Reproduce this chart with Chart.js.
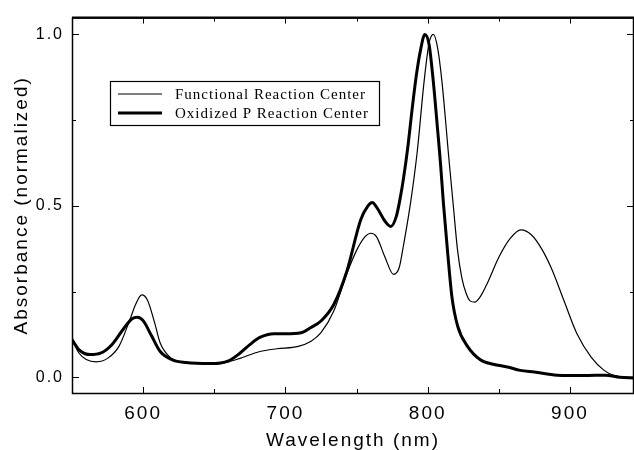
<!DOCTYPE html>
<html>
<head>
<meta charset="utf-8">
<title>Absorbance spectra</title>
<script src="https://cdn.jsdelivr.net/npm/chart.js@4.4.1/dist/chart.umd.min.js"></script>
<style>
  html, body { margin: 0; padding: 0; background: #fff; }
  #chart { display: block; }
</style>
</head>
<body>
<canvas id="chart" width="634" height="450"></canvas>
<script>
// === Data ===
const functionalWavelengths = [550, 555, 560, 567, 575, 583, 590, 595, 599, 603, 608, 612, 619, 627, 640, 650, 660, 668, 682, 694, 709, 718, 725, 734, 743, 750, 756, 760, 764, 770, 776, 780, 783, 788, 792.7, 797.4, 801, 804, 807, 810, 815, 818, 821, 824, 827, 830, 833, 837, 842, 850, 858, 865.5, 873, 880, 887, 896, 905, 915, 924, 931, 938, 945];
const functionalAbsorbance = [0.11, 0.07, 0.052, 0.045, 0.055, 0.09, 0.16, 0.215, 0.24, 0.225, 0.16, 0.10, 0.058, 0.045, 0.04, 0.038, 0.045, 0.055, 0.075, 0.083, 0.09, 0.105, 0.13, 0.193, 0.30, 0.37, 0.41, 0.42, 0.41, 0.35, 0.30, 0.32, 0.385, 0.51, 0.66, 0.86, 0.975, 1.0, 0.96, 0.863, 0.633, 0.50, 0.37, 0.29, 0.245, 0.222, 0.219, 0.235, 0.275, 0.35, 0.405, 0.43, 0.415, 0.375, 0.317, 0.221, 0.126, 0.058, 0.02, 0.005, 0.0, 0.0];

const oxidizedWavelengths = [550, 555, 563, 570, 578, 586, 592, 596, 600, 606, 612, 621, 630, 647, 660, 668, 675, 682, 692, 700, 711, 718, 725, 734, 743, 753, 758, 761, 765, 770, 774, 778, 781, 783, 786, 789, 792, 795, 798, 801, 804, 807, 809, 811, 814, 817, 821, 828, 837, 846, 856, 865, 875, 891, 910, 925, 935, 945];
const oxidizedAbsorbance = [0.11, 0.08, 0.066, 0.07, 0.095, 0.14, 0.17, 0.175, 0.165, 0.12, 0.075, 0.05, 0.043, 0.04, 0.048, 0.07, 0.095, 0.116, 0.127, 0.127, 0.13, 0.145, 0.164, 0.212, 0.307, 0.46, 0.50, 0.51, 0.49, 0.455, 0.44, 0.47, 0.53, 0.58, 0.67, 0.78, 0.88, 0.955, 1.0, 0.97, 0.86, 0.72, 0.624, 0.51, 0.365, 0.235, 0.15, 0.09, 0.051, 0.038, 0.03, 0.02, 0.015, 0.006, 0.005, 0.006, 0.0, -0.002];

const seriesLabels = ['Functional Reaction Center', 'Oxidized P Reaction Center'];

const xTicks = [600, 700, 800, 900];
const xMinorTicks = [650, 750, 850];
const yTicks = [0.0, 0.5, 1.0];
const yMinorTicks = [0.25, 0.75];

// === Helpers ===
function toPoints(xs, ys) {
  return xs.map((x, i) => ({ x: x, y: ys[i] }));
}

// letter spacing for all chart text (the figure's text is spaced out)
const spacingPlugin = {
  id: 'spacing',
  beforeLayout(chart) { chart.ctx.letterSpacing = '2px'; },
  beforeDraw(chart) { chart.ctx.letterSpacing = '2px'; }
};

// frame + inward tick marks on all four sides
const framePlugin = {
  id: 'frame',
  afterDatasetsDraw(chart) {
    const { ctx, chartArea: a, scales } = chart;
    const xs = scales.x, ys = scales.y;
    ctx.save();
    ctx.strokeStyle = '#000';
    ctx.lineWidth = 1.5;
    ctx.strokeRect(a.left + 0.5, a.top + 0.5, a.right - a.left - 1, a.bottom - a.top);
    // top edge is a bit heavier in the figure
    ctx.lineWidth = 2;
    ctx.beginPath();
    ctx.moveTo(a.left, a.top);
    ctx.lineTo(a.right, a.top);
    ctx.stroke();

    ctx.lineWidth = 1;
    const tick = (vals, len) => {
      vals.forEach(v => {
        const px = Math.round(xs.getPixelForValue(v)) + 0.5;
        ctx.beginPath();
        ctx.moveTo(px, a.bottom); ctx.lineTo(px, a.bottom - len);
        ctx.moveTo(px, a.top); ctx.lineTo(px, a.top + len);
        ctx.stroke();
      });
    };
    const ytick = (vals, len) => {
      vals.forEach(v => {
        const py = Math.round(ys.getPixelForValue(v)) + 0.5;
        ctx.beginPath();
        ctx.moveTo(a.left, py); ctx.lineTo(a.left + len, py);
        ctx.moveTo(a.right, py); ctx.lineTo(a.right - len, py);
        ctx.stroke();
      });
    };
    tick(xTicks, 6);
    tick(xMinorTicks, 4);
    ytick(yTicks, 7);
    ytick(yMinorTicks, 4);
    ctx.restore();
  }
};

// boxed legend inside the plot
const boxLegendPlugin = {
  id: 'boxLegend',
  afterDraw(chart) {
    const ctx = chart.ctx;
    ctx.save();
    ctx.letterSpacing = '1px';
    ctx.strokeStyle = '#000';
    ctx.lineWidth = 1.2;
    ctx.strokeRect(110.5, 81.5, 269, 44);
    const rows = [94, 113];
    chart.data.datasets.forEach((ds, i) => {
      ctx.lineWidth = ds.borderWidth;
      ctx.beginPath();
      ctx.moveTo(118, rows[i]);
      ctx.lineTo(162, rows[i]);
      ctx.stroke();
      ctx.fillStyle = '#000';
      ctx.font = '15px "Liberation Serif", "Times New Roman", serif';
      ctx.textBaseline = 'middle';
      ctx.textAlign = 'left';
      ctx.fillText(ds.label, 175, rows[i] + 1);
    });
    ctx.restore();
  }
};

// === Chart ===
new Chart(document.getElementById('chart'), {
  type: 'line',
  data: {
    datasets: [
      {
        label: seriesLabels[0],
        data: toPoints(functionalWavelengths, functionalAbsorbance),
        borderColor: '#000',
        borderWidth: 1.2,
        pointRadius: 0,
        cubicInterpolationMode: 'monotone',
        fill: false
      },
      {
        label: seriesLabels[1],
        data: toPoints(oxidizedWavelengths, oxidizedAbsorbance),
        borderColor: '#000',
        borderWidth: 3,
        pointRadius: 0,
        cubicInterpolationMode: 'monotone',
        fill: false
      }
    ]
  },
  options: {
    responsive: false,
    animation: false,
    layout: { padding: { top: 12, right: 0, left: 0, bottom: 0 } },
    plugins: {
      legend: { display: false },
      tooltip: { enabled: false }
    },
    scales: {
      x: {
        type: 'linear',
        min: 550,
        max: 945,
        grid: { display: false, drawTicks: false },
        border: { display: false },
        afterBuildTicks: (scale) => { scale.ticks = xTicks.map(v => ({ value: v })); },
        afterFit: (scale) => { scale.height = 57; },
        ticks: {
          color: '#000',
          padding: 9,
          maxRotation: 0,
          font: { family: '"Liberation Sans", Arial, sans-serif', size: 19 }
        },
        title: {
          display: true,
          text: 'Wavelength (nm)',
          color: '#000',
          padding: { top: 0, bottom: 0 },
          font: { family: '"Liberation Sans", Arial, sans-serif', size: 19, lineHeight: 1.0 }
        }
      },
      y: {
        min: -0.046,
        max: 1.049,
        grid: { display: false, drawTicks: false },
        border: { display: false },
        afterBuildTicks: (scale) => { scale.ticks = yTicks.map(v => ({ value: v })); },
        afterFit: (scale) => { scale.width = 72; },
        ticks: {
          color: '#000',
          padding: 8,
          font: { family: '"Liberation Sans", Arial, sans-serif', size: 16 },
          callback: (v) => Number(v).toFixed(1)
        },
        title: {
          display: true,
          text: 'Absorbance (normalized)',
          color: '#000',
          padding: { top: 10, bottom: 0 },
          font: { family: '"Liberation Sans", Arial, sans-serif', size: 19 }
        }
      }
    }
  },
  plugins: [spacingPlugin, framePlugin, boxLegendPlugin]
});
</script>
</body>
</html>
